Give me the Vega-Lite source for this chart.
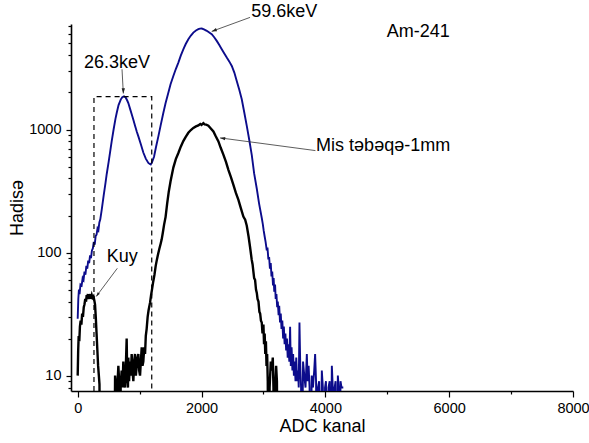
{
  "$schema": "https://vega.github.io/schema/vega-lite/v6.json",
  "width": 502,
  "height": 367,
  "autosize": "none",
  "padding": {"left": 71, "top": 24, "right": 16, "bottom": 52},
  "config": {
    "font": "Liberation Sans",
    "view": {"stroke": null},
    "axis": {
      "grid": false,
      "domainColor": "#000000",
      "tickColor": "#000000",
      "labelColor": "#000000",
      "titleColor": "#000000",
      "titleFontWeight": "normal",
      "labelFontSize": 14.5,
      "titleFontSize": 18,
      "domainWidth": 1.6,
      "tickWidth": 1.2
    }
  },
  "datasets": {
    "spectrum": [
      {"series":"Am-241","ch":0,"count":29},{"series":"Am-241","ch":10,"count":42},{"series":"Am-241","ch":20,"count":50},{"series":"Am-241","ch":30,"count":46},{"series":"Am-241","ch":45,"count":55},{"series":"Am-241","ch":64,"count":54},{"series":"Am-241","ch":80,"count":62},{"series":"Am-241","ch":95,"count":60},{"series":"Am-241","ch":110,"count":70},{"series":"Am-241","ch":125,"count":66},{"series":"Am-241","ch":140,"count":78},{"series":"Am-241","ch":155,"count":74},{"series":"Am-241","ch":170,"count":86},{"series":"Am-241","ch":185,"count":82},{"series":"Am-241","ch":200,"count":95},{"series":"Am-241","ch":215,"count":90},{"series":"Am-241","ch":230,"count":104},{"series":"Am-241","ch":245,"count":108},{"series":"Am-241","ch":260,"count":122},{"series":"Am-241","ch":275,"count":116},{"series":"Am-241","ch":290,"count":136},{"series":"Am-241","ch":305,"count":140},{"series":"Am-241","ch":320,"count":157},{"series":"Am-241","ch":335,"count":152},{"series":"Am-241","ch":350,"count":176},{"series":"Am-241","ch":365,"count":186},{"series":"Am-241","ch":388,"count":222},{"series":"Am-241","ch":420,"count":292},{"series":"Am-241","ch":450,"count":370},{"series":"Am-241","ch":469,"count":435},{"series":"Am-241","ch":500,"count":545},{"series":"Am-241","ch":530,"count":690},{"series":"Am-241","ch":549,"count":800},{"series":"Am-241","ch":580,"count":1000},{"series":"Am-241","ch":610,"count":1220},{"series":"Am-241","ch":630,"count":1360},{"series":"Am-241","ch":660,"count":1580},{"series":"Am-241","ch":695,"count":1750},{"series":"Am-241","ch":720,"count":1830},{"series":"Am-241","ch":748,"count":1860},{"series":"Am-241","ch":775,"count":1820},{"series":"Am-241","ch":800,"count":1720},{"series":"Am-241","ch":818,"count":1640},{"series":"Am-241","ch":850,"count":1450},{"series":"Am-241","ch":875,"count":1320},{"series":"Am-241","ch":899,"count":1200},{"series":"Am-241","ch":930,"count":1060},{"series":"Am-241","ch":955,"count":960},{"series":"Am-241","ch":980,"count":880},{"series":"Am-241","ch":1020,"count":760},{"series":"Am-241","ch":1060,"count":650},{"series":"Am-241","ch":1100,"count":580},{"series":"Am-241","ch":1141,"count":535},{"series":"Am-241","ch":1165,"count":525},{"series":"Am-241","ch":1180,"count":520},{"series":"Am-241","ch":1200,"count":540},{"series":"Am-241","ch":1233,"count":600},{"series":"Am-241","ch":1265,"count":720},{"series":"Am-241","ch":1303,"count":880},{"series":"Am-241","ch":1340,"count":1080},{"series":"Am-241","ch":1383,"count":1360},{"series":"Am-241","ch":1420,"count":1640},{"series":"Am-241","ch":1464,"count":1990},{"series":"Am-241","ch":1500,"count":2330},{"series":"Am-241","ch":1545,"count":2720},{"series":"Am-241","ch":1585,"count":3100},{"series":"Am-241","ch":1626,"count":3500},{"series":"Am-241","ch":1665,"count":3980},{"series":"Am-241","ch":1706,"count":4480},{"series":"Am-241","ch":1745,"count":4950},{"series":"Am-241","ch":1787,"count":5420},{"series":"Am-241","ch":1828,"count":5800},{"series":"Am-241","ch":1868,"count":6130},{"series":"Am-241","ch":1910,"count":6380},{"series":"Am-241","ch":1949,"count":6530},{"series":"Am-241","ch":1975,"count":6600},{"series":"Am-241","ch":2004,"count":6620},{"series":"Am-241","ch":2040,"count":6520},{"series":"Am-241","ch":2085,"count":6340},{"series":"Am-241","ch":2125,"count":6150},{"series":"Am-241","ch":2165,"count":5950},{"series":"Am-241","ch":2205,"count":5620},{"series":"Am-241","ch":2246,"count":5250},{"series":"Am-241","ch":2285,"count":4880},{"series":"Am-241","ch":2327,"count":4490},{"series":"Am-241","ch":2368,"count":4150},{"series":"Am-241","ch":2408,"count":3840},{"series":"Am-241","ch":2450,"count":3560},{"series":"Am-241","ch":2489,"count":3280},{"series":"Am-241","ch":2530,"count":2900},{"series":"Am-241","ch":2569,"count":2480},{"series":"Am-241","ch":2610,"count":2100},{"series":"Am-241","ch":2650,"count":1760},{"series":"Am-241","ch":2690,"count":1380},{"series":"Am-241","ch":2731,"count":1070},{"series":"Am-241","ch":2770,"count":830},{"series":"Am-241","ch":2812,"count":620},{"series":"Am-241","ch":2850,"count":440},{"series":"Am-241","ch":2893,"count":330},{"series":"Am-241","ch":2930,"count":250},{"series":"Am-241","ch":2974,"count":190},{"series":"Am-241","ch":2990,"count":170},{"series":"Am-241","ch":3005,"count":150},{"series":"Am-241","ch":3020,"count":135},{"series":"Am-241","ch":3035,"count":122},{"series":"Am-241","ch":3054,"count":104},{"series":"Am-241","ch":3065,"count":110},{"series":"Am-241","ch":3080,"count":88},{"series":"Am-241","ch":3092,"count":92},{"series":"Am-241","ch":3105,"count":74},{"series":"Am-241","ch":3118,"count":82},{"series":"Am-241","ch":3130,"count":64},{"series":"Am-241","ch":3142,"count":70},{"series":"Am-241","ch":3155,"count":54},{"series":"Am-241","ch":3165,"count":62},{"series":"Am-241","ch":3175,"count":48},{"series":"Am-241","ch":3188,"count":55},{"series":"Am-241","ch":3198,"count":42},{"series":"Am-241","ch":3210,"count":46},{"series":"Am-241","ch":3222,"count":36},{"series":"Am-241","ch":3232,"count":40},{"series":"Am-241","ch":3245,"count":31},{"series":"Am-241","ch":3255,"count":37},{"series":"Am-241","ch":3268,"count":27},{"series":"Am-241","ch":3280,"count":32},{"series":"Am-241","ch":3292,"count":24},{"series":"Am-241","ch":3305,"count":28},{"series":"Am-241","ch":3318,"count":20},{"series":"Am-241","ch":3330,"count":25},{"series":"Am-241","ch":3342,"count":18},{"series":"Am-241","ch":3355,"count":22},{"series":"Am-241","ch":3367,"count":16},{"series":"Am-241","ch":3380,"count":20},{"series":"Am-241","ch":3392,"count":14},{"series":"Am-241","ch":3404,"count":18},{"series":"Am-241","ch":3418,"count":13},{"series":"Am-241","ch":3431,"count":25},{"series":"Am-241","ch":3442,"count":12},{"series":"Am-241","ch":3455,"count":17},{"series":"Am-241","ch":3468,"count":11},{"series":"Am-241","ch":3480,"count":15},{"series":"Am-241","ch":3492,"count":10},{"series":"Am-241","ch":3505,"count":13},{"series":"Am-241","ch":3518,"count":9},{"series":"Am-241","ch":3530,"count":14},{"series":"Am-241","ch":3545,"count":9},{"series":"Am-241","ch":3560,"count":11},{"series":"Am-241","ch":3570,"count":8},{"series":"Am-241","ch":3582,"count":27},{"series":"Am-241","ch":3595,"count":12},{"series":"Am-241","ch":3608,"count":8},{"series":"Am-241","ch":3620,"count":1},{"series":"Am-241","ch":3640,"count":13},{"series":"Am-241","ch":3660,"count":10},{"series":"Am-241","ch":3680,"count":8},{"series":"Am-241","ch":3701,"count":15},{"series":"Am-241","ch":3715,"count":9},{"series":"Am-241","ch":3730,"count":12},{"series":"Am-241","ch":3745,"count":8},{"series":"Am-241","ch":3760,"count":1},{"series":"Am-241","ch":3780,"count":10},{"series":"Am-241","ch":3800,"count":8},{"series":"Am-241","ch":3820,"count":11},{"series":"Am-241","ch":3835,"count":15},{"series":"Am-241","ch":3850,"count":9},{"series":"Am-241","ch":3863,"count":1},{"series":"Am-241","ch":3880,"count":8},{"series":"Am-241","ch":3900,"count":9},{"series":"Am-241","ch":3920,"count":1},{"series":"Am-241","ch":3943,"count":11},{"series":"Am-241","ch":3960,"count":8},{"series":"Am-241","ch":3975,"count":1},{"series":"Am-241","ch":3995,"count":8},{"series":"Am-241","ch":4010,"count":9},{"series":"Am-241","ch":4030,"count":1},{"series":"Am-241","ch":4050,"count":8},{"series":"Am-241","ch":4070,"count":9},{"series":"Am-241","ch":4085,"count":1},{"series":"Am-241","ch":4105,"count":12},{"series":"Am-241","ch":4120,"count":8},{"series":"Am-241","ch":4135,"count":1},{"series":"Am-241","ch":4150,"count":8},{"series":"Am-241","ch":4165,"count":9},{"series":"Am-241","ch":4180,"count":1},{"series":"Am-241","ch":4202,"count":10},{"series":"Am-241","ch":4215,"count":8},{"series":"Am-241","ch":4230,"count":1},{"series":"Am-241","ch":4245,"count":9},{"series":"Am-241","ch":4262,"count":8},{"series":"Am-241","ch":4290,"count":8},
      {"series":"Mis","ch":0,"count":10},{"series":"Mis","ch":8,"count":16},{"series":"Mis","ch":16,"count":21},{"series":"Mis","ch":26,"count":19},{"series":"Mis","ch":36,"count":25},{"series":"Mis","ch":48,"count":28},{"series":"Mis","ch":60,"count":26},{"series":"Mis","ch":72,"count":32},{"series":"Mis","ch":85,"count":30},{"series":"Mis","ch":98,"count":36},{"series":"Mis","ch":110,"count":38},{"series":"Mis","ch":122,"count":42},{"series":"Mis","ch":135,"count":40},{"series":"Mis","ch":145,"count":45},{"series":"Mis","ch":155,"count":43},{"series":"Mis","ch":165,"count":46},{"series":"Mis","ch":175,"count":42},{"series":"Mis","ch":185,"count":45},{"series":"Mis","ch":195,"count":43},{"series":"Mis","ch":205,"count":46},{"series":"Mis","ch":215,"count":42},{"series":"Mis","ch":228,"count":45},{"series":"Mis","ch":240,"count":43},{"series":"Mis","ch":255,"count":44},{"series":"Mis","ch":268,"count":41},{"series":"Mis","ch":280,"count":38},{"series":"Mis","ch":292,"count":30},{"series":"Mis","ch":305,"count":22},{"series":"Mis","ch":318,"count":16},{"series":"Mis","ch":330,"count":12},{"series":"Mis","ch":342,"count":10},{"series":"Mis","ch":352,"count":8.5},{"series":"Mis","ch":362,"count":1},{"series":"Mis","ch":450,"count":1},{"series":"Mis","ch":590,"count":1},{"series":"Mis","ch":604,"count":10},{"series":"Mis","ch":618,"count":8},{"series":"Mis","ch":631,"count":1},{"series":"Mis","ch":645,"count":9},{"series":"Mis","ch":657,"count":12},{"series":"Mis","ch":670,"count":9},{"series":"Mis","ch":681,"count":1},{"series":"Mis","ch":694,"count":8},{"series":"Mis","ch":710,"count":11},{"series":"Mis","ch":724,"count":8},{"series":"Mis","ch":737,"count":13},{"series":"Mis","ch":750,"count":9},{"series":"Mis","ch":764,"count":8},{"series":"Mis","ch":778,"count":12},{"series":"Mis","ch":791,"count":20},{"series":"Mis","ch":800,"count":10},{"series":"Mis","ch":812,"count":8},{"series":"Mis","ch":818,"count":14},{"series":"Mis","ch":830,"count":9},{"series":"Mis","ch":845,"count":13},{"series":"Mis","ch":858,"count":10},{"series":"Mis","ch":872,"count":15},{"series":"Mis","ch":885,"count":11},{"series":"Mis","ch":899,"count":9},{"series":"Mis","ch":912,"count":13},{"series":"Mis","ch":926,"count":15},{"series":"Mis","ch":940,"count":10},{"series":"Mis","ch":953,"count":12},{"series":"Mis","ch":966,"count":14},{"series":"Mis","ch":980,"count":15},{"series":"Mis","ch":993,"count":11},{"series":"Mis","ch":1007,"count":10},{"series":"Mis","ch":1020,"count":13},{"series":"Mis","ch":1034,"count":17},{"series":"Mis","ch":1047,"count":12},{"series":"Mis","ch":1060,"count":13},{"series":"Mis","ch":1075,"count":17},{"series":"Mis","ch":1088,"count":15},{"series":"Mis","ch":1100,"count":21},{"series":"Mis","ch":1114,"count":24},{"series":"Mis","ch":1130,"count":30},{"series":"Mis","ch":1145,"count":34},{"series":"Mis","ch":1168,"count":39},{"series":"Mis","ch":1185,"count":45},{"series":"Mis","ch":1200,"count":50},{"series":"Mis","ch":1220,"count":58},{"series":"Mis","ch":1240,"count":66},{"series":"Mis","ch":1260,"count":78},{"series":"Mis","ch":1280,"count":88},{"series":"Mis","ch":1300,"count":98},{"series":"Mis","ch":1320,"count":108},{"series":"Mis","ch":1340,"count":118},{"series":"Mis","ch":1357,"count":128},{"series":"Mis","ch":1375,"count":145},{"series":"Mis","ch":1395,"count":168},{"series":"Mis","ch":1420,"count":195},{"series":"Mis","ch":1445,"count":250},{"series":"Mis","ch":1470,"count":310},{"series":"Mis","ch":1500,"count":380},{"series":"Mis","ch":1545,"count":490},{"series":"Mis","ch":1585,"count":575},{"series":"Mis","ch":1626,"count":645},{"series":"Mis","ch":1665,"count":725},{"series":"Mis","ch":1706,"count":805},{"series":"Mis","ch":1745,"count":870},{"series":"Mis","ch":1787,"count":940},{"series":"Mis","ch":1828,"count":990},{"series":"Mis","ch":1868,"count":1030},{"series":"Mis","ch":1910,"count":1060},{"series":"Mis","ch":1949,"count":1080},{"series":"Mis","ch":1980,"count":1110},{"series":"Mis","ch":2000,"count":1090},{"series":"Mis","ch":2030,"count":1125},{"series":"Mis","ch":2050,"count":1100},{"series":"Mis","ch":2075,"count":1095},{"series":"Mis","ch":2111,"count":1075},{"series":"Mis","ch":2150,"count":1020},{"series":"Mis","ch":2192,"count":965},{"series":"Mis","ch":2230,"count":880},{"series":"Mis","ch":2273,"count":800},{"series":"Mis","ch":2310,"count":710},{"series":"Mis","ch":2353,"count":625},{"series":"Mis","ch":2395,"count":545},{"series":"Mis","ch":2434,"count":470},{"series":"Mis","ch":2475,"count":410},{"series":"Mis","ch":2515,"count":355},{"series":"Mis","ch":2555,"count":305},{"series":"Mis","ch":2596,"count":268},{"series":"Mis","ch":2635,"count":230},{"series":"Mis","ch":2676,"count":196},{"series":"Mis","ch":2705,"count":185},{"series":"Mis","ch":2731,"count":165},{"series":"Mis","ch":2760,"count":135},{"series":"Mis","ch":2785,"count":110},{"series":"Mis","ch":2810,"count":88},{"series":"Mis","ch":2825,"count":80},{"series":"Mis","ch":2838,"count":70},{"series":"Mis","ch":2850,"count":62},{"series":"Mis","ch":2865,"count":60},{"series":"Mis","ch":2880,"count":50},{"series":"Mis","ch":2893,"count":47},{"series":"Mis","ch":2905,"count":42},{"series":"Mis","ch":2920,"count":40},{"series":"Mis","ch":2935,"count":33},{"series":"Mis","ch":2947,"count":32},{"series":"Mis","ch":2960,"count":28},{"series":"Mis","ch":2973,"count":27},{"series":"Mis","ch":2985,"count":22},{"series":"Mis","ch":3000,"count":26},{"series":"Mis","ch":3010,"count":18},{"series":"Mis","ch":3020,"count":22},{"series":"Mis","ch":3030,"count":15},{"series":"Mis","ch":3040,"count":19},{"series":"Mis","ch":3050,"count":12},{"series":"Mis","ch":3060,"count":15},{"series":"Mis","ch":3070,"count":9},{"series":"Mis","ch":3081,"count":1},{"series":"Mis","ch":3100,"count":8},{"series":"Mis","ch":3119,"count":13},{"series":"Mis","ch":3135,"count":11},{"series":"Mis","ch":3151,"count":14},{"series":"Mis","ch":3162,"count":8},{"series":"Mis","ch":3173,"count":1},{"series":"Mis","ch":3190,"count":8},{"series":"Mis","ch":3205,"count":12},{"series":"Mis","ch":3218,"count":9},{"series":"Mis","ch":3232,"count":1}
    ],
    "box": [
      {"ord":1,"ch":263,"count":7.5},{"ord":2,"ch":263,"count":1850},{"ord":3,"ch":1196,"count":1850},{"ord":4,"ch":1196,"count":7.5}
    ],
    "labels": [
      {"text":"59.6keV","ch":2802,"count":8150},
      {"text":"26.3keV","ch":102,"count":3185},
      {"text":"Am-241","ch":4993,"count":5600},
      {"text":"Mis təbəqə-1mm","ch":3851,"count":665},
      {"text":"Kuy","ch":469,"count":84}
    ],
    "arrows": [
      {"name":"a596","ch":2784,"count":8150,"ch2":2165,"count2":6270},
      {"name":"a263","ch":716,"count":3085,"ch2":737,"count2":1963},
      {"name":"mis","ch":3840,"count":674,"ch2":2300,"count2":855},
      {"name":"kuy","ch":640,"count":74.5,"ch2":300,"count2":44}
    ]
  },
  "resolve": {"axis": {"x": "independent", "y": "independent"}},
  "layer": [
    {
      "data": {"name": "spectrum"},
      "mark": {"type": "line", "clip": true},
      "encoding": {
        "x": {"field": "ch", "type": "quantitative", "scale": {"domain": [-108, 8000], "nice": false, "zero": false},
              "axis": {"orient": "bottom", "values": [0, 2000, 4000, 6000, 8000], "tickSize": 6, "labelPadding": 4, "title": "ADC kanal", "titlePadding": 3, "format": "d", "labelFlush": false, "labelOverlap": false}},
        "y": {"field": "count", "type": "quantitative", "scale": {"type": "log", "domain": [7.5, 7200], "nice": false},
              "axis": {"orient": "left", "values": [10, 100, 1000], "tickSize": 5, "labelPadding": 5, "title": "Hadisə", "titlePadding": 2, "format": "d", "labelOverlap": false}},
        "color": {"field": "series", "type": "nominal", "scale": {"domain": ["Am-241", "Mis"], "range": ["#0c0c8c", "#000000"]}, "legend": null},
        "strokeWidth": {"field": "series", "type": "nominal", "scale": {"domain": ["Am-241", "Mis"], "range": [1.9, 2.4]}, "legend": null}
      }
    },
    {
      "data": {"name": "box"},
      "mark": {"type": "line", "strokeDash": [5, 4], "strokeWidth": 1.2, "color": "#000000"},
      "encoding": {
        "x": {"field": "ch", "type": "quantitative", "scale": {"domain": [-108, 8000], "nice": false, "zero": false},
              "axis": {"orient": "bottom", "values": [1000, 3000, 5000, 7000], "tickSize": 3, "labels": false, "domain": false, "title": null}},
        "y": {"field": "count", "type": "quantitative", "scale": {"type": "log", "domain": [7.5, 7200], "nice": false},
              "axis": {"orient": "left", "values": [8, 9, 20, 30, 40, 50, 60, 70, 80, 90, 200, 300, 400, 500, 600, 700, 800, 900, 2000, 3000, 4000, 5000, 6000, 7000], "tickSize": 3, "labels": false, "domain": false, "title": null}},
        "order": {"field": "ord", "type": "quantitative"}
      }
    },
    {
      "data": {"name": "arrows"},
      "mark": {"type": "rule", "strokeWidth": 0.8, "color": "#333333"},
      "encoding": {
        "x": {"field": "ch", "type": "quantitative", "scale": {"domain": [-108, 8000], "nice": false, "zero": false}, "axis": null},
        "y": {"field": "count", "type": "quantitative", "scale": {"type": "log", "domain": [7.5, 7200], "nice": false}, "axis": null},
        "x2": {"field": "ch2"},
        "y2": {"field": "count2"}
      }
    },
    {
      "data": {"name": "arrows"},
      "transform": [{"filter": "datum.name == 'a596'"}],
      "mark": {"type": "point", "shape": "M0,0 L-0.55,1.7 L0.55,1.7 Z", "filled": true, "size": 36, "color": "#222222", "opacity": 1, "angle": 250},
      "encoding": {
        "x": {"field": "ch2", "type": "quantitative", "scale": {"domain": [-108, 8000], "nice": false, "zero": false}, "axis": null},
        "y": {"field": "count2", "type": "quantitative", "scale": {"type": "log", "domain": [7.5, 7200], "nice": false}, "axis": null}
      }
    },
    {
      "data": {"name": "arrows"},
      "transform": [{"filter": "datum.name == 'a263'"}],
      "mark": {"type": "point", "shape": "M0,0 L-0.55,1.7 L0.55,1.7 Z", "filled": true, "size": 36, "color": "#222222", "opacity": 1, "angle": 180},
      "encoding": {
        "x": {"field": "ch2", "type": "quantitative", "scale": {"domain": [-108, 8000], "nice": false, "zero": false}, "axis": null},
        "y": {"field": "count2", "type": "quantitative", "scale": {"type": "log", "domain": [7.5, 7200], "nice": false}, "axis": null}
      }
    },
    {
      "data": {"name": "arrows"},
      "transform": [{"filter": "datum.name == 'mis'"}],
      "mark": {"type": "point", "shape": "M0,0 L-0.55,1.7 L0.55,1.7 Z", "filled": true, "size": 36, "color": "#222222", "opacity": 1, "angle": 277.6},
      "encoding": {
        "x": {"field": "ch2", "type": "quantitative", "scale": {"domain": [-108, 8000], "nice": false, "zero": false}, "axis": null},
        "y": {"field": "count2", "type": "quantitative", "scale": {"type": "log", "domain": [7.5, 7200], "nice": false}, "axis": null}
      }
    },
    {
      "data": {"name": "arrows"},
      "transform": [{"filter": "datum.name == 'kuy'"}],
      "mark": {"type": "point", "shape": "M0,0 L-0.55,1.7 L0.55,1.7 Z", "filled": true, "size": 25, "color": "#222222", "opacity": 1, "angle": 216.6},
      "encoding": {
        "x": {"field": "ch2", "type": "quantitative", "scale": {"domain": [-108, 8000], "nice": false, "zero": false}, "axis": null},
        "y": {"field": "count2", "type": "quantitative", "scale": {"type": "log", "domain": [7.5, 7200], "nice": false}, "axis": null}
      }
    },
    {
      "data": {"name": "labels"},
      "mark": {"type": "text", "align": "left", "baseline": "alphabetic", "fontSize": 18, "color": "#000000"},
      "encoding": {
        "x": {"field": "ch", "type": "quantitative", "scale": {"domain": [-108, 8000], "nice": false, "zero": false}, "axis": null},
        "y": {"field": "count", "type": "quantitative", "scale": {"type": "log", "domain": [7.5, 7200], "nice": false}, "axis": null},
        "text": {"field": "text"}
      }
    }
  ]
}
